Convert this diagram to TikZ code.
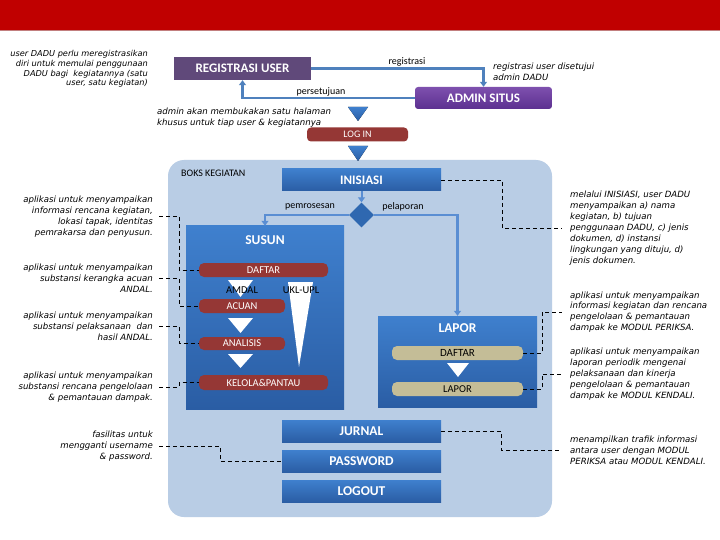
\documentclass[tikz,border=0pt]{standalone}
\usepackage{fontspec}
\setmainfont{Carlito}
\newfontfamily\itfont{DejaVu Sans}
\usetikzlibrary{shapes.geometric,arrows.meta}
\definecolor{topred}{HTML}{C00000}
\definecolor{regpurple}{HTML}{60497A}
\definecolor{admtop}{HTML}{7E50AE}
\definecolor{admbot}{HTML}{5C3090}
\definecolor{arrblue}{HTML}{4F81BD}
\definecolor{inarr}{HTML}{5A8ED3}
\definecolor{boksfill}{HTML}{B9CDE5}
\definecolor{btop}{HTML}{3F80CE}
\definecolor{bbot}{HTML}{2A5DA4}
\definecolor{redbar}{HTML}{953735}
\definecolor{tanbar}{HTML}{C4BD97}
\definecolor{tri}{HTML}{2F68B0}
\tikzset{
  lbl/.style={inner sep=0pt, font=\fontsize{10}{12}\selectfont},
  note/.style={inner sep=0pt, font=\itfont\itshape\fontsize{8.6}{10.9}\selectfont},
  bluebox/.style={top color=btop, bottom color=bbot, draw=none, text=white, font=\bfseries\fontsize{13}{15}\selectfont, inner sep=0pt},
  redpill/.style={fill=redbar, draw=none, rounded corners=5pt, text=white, font=\fontsize{10.5}{12}\selectfont, inner sep=0pt},
  tanpill/.style={fill=tanbar, draw=none, rounded corners=5pt, text=black, font=\fontsize{10.5}{12}\selectfont, inner sep=0pt},
  mainarrow/.style={draw=arrblue, line width=2.4pt, -{Triangle[length=5pt,width=7pt]}},
  innerarrow/.style={draw=inarr, line width=2.6pt, -{Triangle[length=5pt,width=7pt]}},
  dashline/.style={draw=black, dashed, line width=0.8pt, dash pattern=on 4pt off 3pt},
}
\begin{document}
\begin{tikzpicture}[x=1pt,y=-1pt]
\useasboundingbox (0,0) rectangle (720,540);
\fill[white] (0,0) rectangle (720,540);
% top bar
\fill[topred] (0,0) rectangle (720,30);
\fill[topred!70!black,opacity=0.5] (0,30) rectangle (720,31.2);

% top section
\node[fill=regpurple, draw=none, text=white, font=\bfseries\fontsize{13}{15}\selectfont, minimum width=137pt, minimum height=23pt, inner sep=0pt] (reguser) at (242.5,68.5) {REGISTRASI USER};
\node[top color=admtop, bottom color=admbot, draw=none, rounded corners=3pt, text=white, font=\bfseries\fontsize{13}{15}\selectfont, minimum width=137pt, minimum height=22pt, inner sep=0pt] (admin) at (483.5,98) {ADMIN SITUS};
\draw[mainarrow] (reguser.east) -| (admin.north);
\draw[mainarrow] (admin.west) -| (reguser.south);
\node[lbl] (lregis) at (407,62) {registrasi};
\node[lbl] (lsetuju) at (321,92) {persetujuan};

\node[note, anchor=east, align=right, font=\itfont\itshape\fontsize{8.2}{9.6}\selectfont] (tl) at (148,69) {user DADU perlu meregistrasikan\\diri untuk memulai penggunaan\\DADU bagi\ \ kegiatannya (satu\\user, satu kegiatan)};
\node[note, anchor=west, align=left] (regtxt) at (493,72) {registrasi user disetujui\\admin DADU};
\node[note, anchor=west, align=left] (admintxt) at (157,117.5) {admin akan membukakan satu halaman\\khusus untuk tiap user \& kegiatannya};

\fill[top color=btop, bottom color=bbot] (348,107) -- (368,107) -- (358,121) -- cycle;
\node[fill=redbar, draw=none, rounded corners=4pt, text=white, font=\fontsize{10}{12}\selectfont, minimum width=101pt, minimum height=14pt, inner sep=0pt] (login) at (357.5,134.5) {LOG IN};

% BOKS KEGIATAN
\node[fill=boksfill, draw=none, rounded corners=16pt, minimum width=384pt, minimum height=357pt, inner sep=0pt] (boks) at (360,338.5) {};
\node[lbl, anchor=west] (bokslbl) at (181,173) {BOKS KEGIATAN};
\fill[top color=btop, bottom color=bbot] (348,146) -- (368,146) -- (358,161) -- cycle;

\node[bluebox, minimum width=159pt, minimum height=22pt] (inisiasi) at (361.5,180) {INISIASI};
\node[diamond, fill=tri, draw=none, minimum width=25pt, minimum height=25pt, inner sep=0pt] (dia) at (361.5,215) {};
\draw[innerarrow, line width=2pt] (inisiasi.south) -- (dia.north);
\node[bluebox, minimum width=158pt, minimum height=183pt] (susun) at (265,317.5) {};
\node[bluebox, minimum width=159pt, minimum height=91pt] (lapor) at (457.5,361.5) {};
\draw[innerarrow] (dia.west) -| (susun.north);
\draw[innerarrow] (dia.east) -| (lapor.north);
\node[lbl] (lproses) at (310,207) {pemrosesan};
\node[lbl] (llapor) at (403,207) {pelaporan};

\node[text=white, font=\bfseries\fontsize{13.5}{15}\selectfont, inner sep=0pt] (susunlbl) at (265,240) {SUSUN};
\node[text=white, font=\bfseries\fontsize{13.5}{15}\selectfont, inner sep=0pt] (laporlbl) at (457.5,328) {LAPOR};

% SUSUN contents
\fill[white] (228,280) -- (253,280) -- (240.5,297) -- cycle;
\fill[white] (228,318) -- (253,318) -- (240.5,333) -- cycle;
\fill[white] (228,354) -- (253,354) -- (240.5,368) -- cycle;
\fill[white] (288,282) -- (313,282) -- (299,367) -- cycle;
\node[redpill, minimum width=129pt, minimum height=14pt] (daftar) at (263.5,270) {DAFTAR};
\node[redpill, minimum width=86pt, minimum height=14pt] (acuan) at (242,306) {ACUAN};
\node[redpill, minimum width=86pt, minimum height=13pt] (analisis) at (242,343.5) {ANALISIS};
\node[redpill, minimum width=129pt, minimum height=15pt] (kelola) at (263.5,382.5) {KELOLA\&PANTAU};
\node[lbl, font=\fontsize{10.5}{12}\selectfont] (amdal) at (242,290) {AMDAL};
\node[lbl, font=\fontsize{10.5}{12}\selectfont] (ukl) at (301,290) {UKL-UPL};

% LAPOR contents
\fill[white] (447,363) -- (469,363) -- (458,377) -- cycle;
\node[tanpill, minimum width=131pt, minimum height=14pt, font=\fontsize{11}{12}\selectfont] (ldaftar) at (457.5,353) {DAFTAR};
\node[tanpill, minimum width=131pt, minimum height=14pt] (llap) at (457.5,389) {LAPOR};

% bottom buttons
\node[bluebox, minimum width=159pt, minimum height=22pt, font=\bfseries\fontsize{13.5}{15}\selectfont] (jurnal) at (361.5,431) {JURNAL};
\node[bluebox, minimum width=159pt, minimum height=22pt, font=\bfseries\fontsize{13.5}{15}\selectfont] (password) at (361.5,461) {PASSWORD};
\node[bluebox, minimum width=159pt, minimum height=22pt, font=\bfseries\fontsize{13.5}{15}\selectfont] (logout) at (361.5,491) {LOGOUT};

% left notes
\node[note, anchor=east, align=right] (t1) at (153,216.5) {aplikasi untuk menyampaikan\\informasi rencana kegiatan,\\lokasi tapak, identitas\\pemrakarsa dan penyusun.};
\node[note, anchor=east, align=right] (t2) at (153,278) {aplikasi untuk menyampaikan\\substansi kerangka acuan\\ANDAL.};
\node[note, anchor=east, align=right] (t3) at (153,326) {aplikasi untuk menyampaikan\\substansi pelaksanaan\ \ dan\\hasil ANDAL.};
\node[note, anchor=east, align=right] (t4) at (153,387) {aplikasi untuk menyampaikan\\substansi rencana pengelolaan\\\& pemantauan dampak.};
\node[note, anchor=east, align=right] (t5) at (153,446) {fasilitas untuk\\mengganti username\\\& password.};

% right notes
\node[note, anchor=west, align=left] (r1) at (570,228) {melalui INISIASI, user DADU\\menyampaikan a) nama\\kegiatan, b) tujuan\\penggunaan DADU, c) jenis\\dokumen, d) instansi\\lingkungan yang dituju, d)\\jenis dokumen.};
\node[note, anchor=west, align=left] (r2) at (570,312) {aplikasi untuk menyampaikan\\informasi kegiatan dan rencana\\pengelolaan \& pemantauan\\dampak ke MODUL PERIKSA.};
\node[note, anchor=west, align=left] (r3) at (570,374) {aplikasi untuk menyampaikan\\laporan periodik mengenai\\pelaksanaan dan kinerja\\pengelolaan \& pemantauan\\dampak ke MODUL KENDALI.};
\node[note, anchor=west, align=left] (r4) at (570,450) {menampilkan trafik informasi\\antara user dengan MODUL\\PERIKSA atau MODUL KENDALI.};

% dashed connectors
\draw[dashline] ([xshift=6pt]t1.east) -- ++(20,0) |- (daftar.west);
\draw[dashline] ([xshift=6pt]t2.east) -- ++(20,0) |- (acuan.west);
\draw[dashline] ([xshift=6pt]t3.east) -- ++(20,0) |- (analisis.west);
\draw[dashline] ([xshift=6pt]t4.east) -- ++(20,0) |- (kelola.west);
\draw[dashline] ([xshift=6pt]t5.east) -- ++(61,0) |- (password.west);
\draw[dashline] (inisiasi.east) -- ++(61,0) |- ([xshift=-8pt]r1.west);
\draw[dashline] (ldaftar.east) -- ++(19,0) |- ([xshift=-8pt]r2.west);
\draw[dashline] (llap.east) -- ++(19,0) |- ([xshift=-8pt]r3.west);
\draw[dashline] (jurnal.east) -- ++(60,0) |- ([xshift=-8pt]r4.west);
\end{tikzpicture}
\end{document}
